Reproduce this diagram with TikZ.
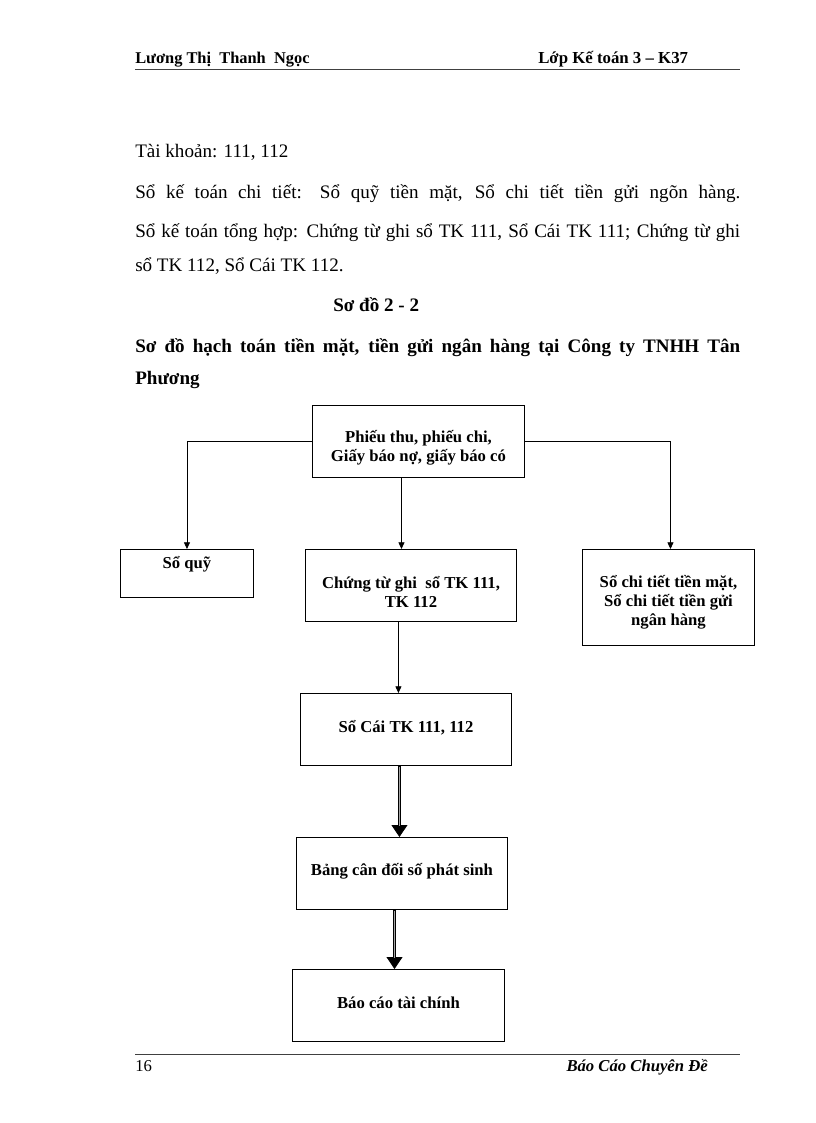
\documentclass[tikz,border=0pt]{standalone}
\usepackage{fontspec}
\setmainfont{Liberation Serif}
\usetikzlibrary{arrows.meta,calc}
\begin{document}
\begin{tikzpicture}[x=0.75pt,y=-0.75pt,
  box/.style={draw, line width=0.7pt, inner sep=0pt, anchor=north west},
  btext/.style={font=\fontsize{12.5}{14.25}\selectfont\bfseries, align=center, inner sep=0pt},
  ln/.style={anchor=base west, inner sep=0pt, font=\fontsize{14.3}{16}\selectfont},
  bln/.style={anchor=base west, inner sep=0pt, font=\fontsize{14.3}{16}\selectfont\bfseries},
  arr/.style={line width=0.6pt, -{Triangle[length=5pt,width=4.5pt]}},
  bigarr/.style={line width=0.6pt, -{Triangle[length=9pt,width=12pt]}},
  dout/.style={line width=2.8pt, shorten >=8pt},
  din/.style={line width=1.2pt, black!35, shorten >=8.5pt, shorten <=0.5pt},
  rule/.style={line width=0.5pt, black!75}
]
\useasboundingbox (0,0) rectangle (816,1123);

% header
\node[anchor=base west, inner sep=0pt, font=\fontsize{12.3}{14}\selectfont\bfseries] (hl) at (135,64) {Lương Thị\ \ Thanh\ \ Ngọc};
\node[anchor=base west, inner sep=0pt, font=\fontsize{12.6}{14}\selectfont\bfseries] (hr) at (538,64) {Lớp Kế toán 3 – K37};
\coordinate (h1) at (135,69);
\coordinate (h2) at (740,69);
\draw[rule] (h1) -- (h2);

% body text
\node[ln] (t1) at (135,158) {Tài khoản: 111, 112};
\node[ln] (t2) at (135,199) {\makebox[453.75pt][s]{Sổ kế toán chi tiết: Sổ quỹ tiền mặt, Sổ chi tiết tiền gửi ngõn hàng.}};
\node[ln] (t3) at (135,238) {\makebox[453.75pt][s]{Sổ kế toán tổng hợp: Chứng từ ghi sổ TK 111, Sổ Cái TK 111; Chứng từ ghi}};
\node[ln] (t4) at (135,272) {sổ TK 112, Sổ Cái TK 112.};
\node[bln] (t5) at (333,311) {Sơ đồ 2 - 2};
\node[bln] (t6) at (135,352) {\makebox[453.75pt][s]{Sơ đồ hạch toán tiền mặt, tiền gửi ngân hàng tại Công ty TNHH Tân}};
\node[bln] (t7) at (135,384) {Phương};

% boxes
\node[box, minimum width=159pt, minimum height=54pt] (top) at (312,405) {};
\node[btext] at ([yshift=-4.5pt]top.center) {Phiếu thu, phiếu chi,\\Giấy báo nợ, giấy báo có};

\node[box, minimum width=99.75pt, minimum height=36pt] (sq) at (120,549) {};
\node[btext, anchor=base] at ($(sq.north)+(0,19)$) {Sổ quỹ};

\node[box, minimum width=158.25pt, minimum height=54pt] (ct) at (305,549) {};
\node[btext] at ([yshift=-5pt]ct.center) {Chứng từ ghi\ \ sổ TK 111,\\TK 112};

\node[box, minimum width=129pt, minimum height=72pt] (sct) at (582,549) {};
\node[btext] at ([yshift=-3.5pt]sct.center) {Sổ chi tiết tiền mặt,\\Sổ chi tiết tiền gửi\\ngân hàng};

\node[box, minimum width=158.25pt, minimum height=54pt] (sc) at (300,693) {};
\node[btext] at ([yshift=1.5pt]sc.center) {Sổ Cái TK 111, 112};

\node[box, minimum width=158.25pt, minimum height=54pt] (bc) at (296,837) {};
\node[btext] at ([yshift=1.5pt]bc.center) {Bảng cân đối số phát sinh};

\node[box, minimum width=159pt, minimum height=54pt] (bctc) at (292,969) {};
\node[btext] at ([yshift=2pt]bctc.center) {Báo cáo tài chính};

% connectors
\draw[arr] (top.west) -| (sq.north);
\draw[arr] (top.east) -| ([xshift=1.5pt]sct.north);
\draw[arr] ([xshift=-12.75pt]top.south) -- ([xshift=-12.75pt]top.south |- ct.north);
\draw[arr] ([xshift=-9.4pt]ct.south) -- ([xshift=-9.4pt]ct.south |- sc.north);

\draw[bigarr] ([xshift=-4.9pt]sc.south) -- ([xshift=-4.9pt]sc.south |- bc.north);
\draw[dout] ([xshift=-4.9pt]sc.south) -- ([xshift=-4.9pt]sc.south |- bc.north);
\draw[din] ([xshift=-4.9pt]sc.south) -- ([xshift=-4.9pt]sc.south |- bc.north);
\draw[bigarr] ([xshift=-5.6pt]bc.south) -- ([xshift=-5.6pt]bc.south |- bctc.north);
\draw[dout] ([xshift=-5.6pt]bc.south) -- ([xshift=-5.6pt]bc.south |- bctc.north);
\draw[din] ([xshift=-5.6pt]bc.south) -- ([xshift=-5.6pt]bc.south |- bctc.north);

% footer
\coordinate (f1) at (135,1054);
\coordinate (f2) at (740,1054);
\draw[rule] (f1) -- (f2);
\node[anchor=base west, inner sep=0pt, font=\fontsize{12.5}{14}\selectfont] (pg) at (135,1071) {16};
\node[anchor=base east, inner sep=0pt, font=\fontsize{12.5}{14}\selectfont\bfseries\itshape] (fr) at (708,1071) {Báo Cáo Chuyên Đề};
\end{tikzpicture}
\end{document}
